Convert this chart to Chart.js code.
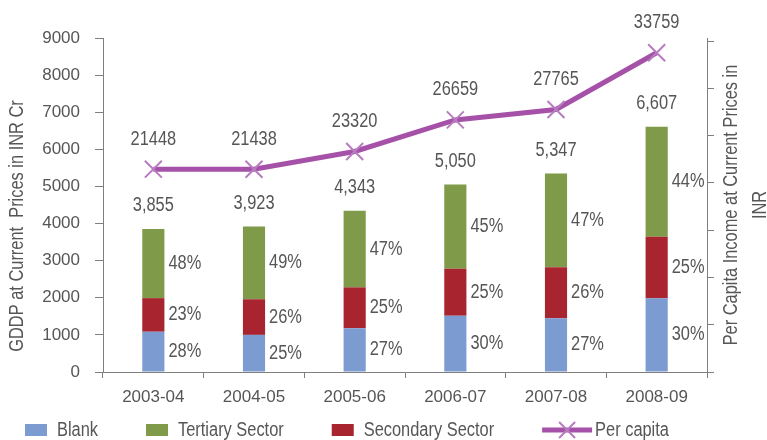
<!DOCTYPE html>
<html>
<head>
<meta charset="utf-8">
<script src="https://cdn.jsdelivr.net/npm/chart.js@4.4.0/dist/chart.umd.min.js"></script>
<style>
  html, body { margin: 0; padding: 0; background: #fff; }
</style>
</head>
<body>
<canvas id="myChart" width="767" height="440"></canvas>
<script>
// categories and values
var years = ['2003-04', '2004-05', '2005-06', '2006-07', '2007-08', '2008-09'];
var blank = [1085, 1000, 1180, 1515, 1450, 1985];
var secondary = [905, 960, 1100, 1265, 1370, 1660];
var tertiary = [1865, 1963, 2063, 2270, 2527, 2962];
var totals = [3855, 3923, 4343, 5050, 5347, 6607];
var perCapita = [21448, 21438, 23320, 26659, 27765, 33759];
var blankPct = ['28%', '25%', '27%', '30%', '27%', '30%'];
var secondaryPct = ['23%', '26%', '25%', '25%', '26%', '25%'];
var tertiaryPct = ['48%', '49%', '47%', '45%', '47%', '44%'];
var rightTicks = [0, 5000, 10000, 15000, 20000, 25000, 30000, 35000];

var FONT = "'Liberation Sans', Arial, sans-serif";
var TEXT = '#565656';
var AXIS = '#7f7f7f';
var SQUEEZE = 0.82;   // narrow look of the original lettering

Chart.defaults.font.family = FONT;
Chart.defaults.font.size = 17;
Chart.defaults.color = TEXT;

function narrowText(ctx, text, x, y, align, angle) {
    ctx.save();
    ctx.translate(x, y);
    if (angle) ctx.rotate(angle);
    ctx.scale(SQUEEZE, 1);
    ctx.textAlign = align;
    ctx.fillText(text, 0, 0);
    ctx.restore();
}

// percentages, totals and per capita values
var labelPlugin = {
    id: 'valueLabels',
    afterDatasetsDraw: function(chart) {
        var ctx = chart.ctx;
        ctx.save();
        ctx.font = '20px ' + FONT;
        ctx.fillStyle = TEXT;
        ctx.textBaseline = 'middle';
        [[0, blankPct], [1, secondaryPct], [2, tertiaryPct]].forEach(function(p) {
            chart.getDatasetMeta(p[0]).data.forEach(function(bar, i) {
                narrowText(ctx, p[1][i], bar.x + bar.width / 2 + 4, (bar.y + bar.base) / 2, 'left');
            });
        });
        chart.getDatasetMeta(2).data.forEach(function(bar, i) {
            narrowText(ctx, totals[i].toLocaleString('en-US'), bar.x, bar.y - 23, 'center');
        });
        chart.getDatasetMeta(3).data.forEach(function(pt, i) {
            narrowText(ctx, String(perCapita[i]), pt.x, pt.y - 30, 'center');
        });
        ctx.restore();
    }
};

// axis titles and the legend row
var framePlugin = {
    id: 'frame',
    afterDraw: function(chart) {
        var ctx = chart.ctx;
        ctx.save();
        ctx.font = '20px ' + FONT;
        ctx.fillStyle = TEXT;
        ctx.textBaseline = 'middle';

        narrowText(ctx, 'GDDP at Current  Prices in INR Cr', 17, 226, 'center', -Math.PI / 2);
        narrowText(ctx, 'Per Capita Income at Current Prices in', 731, 205, 'center', -Math.PI / 2);
        narrowText(ctx, 'INR', 760, 205, 'center', -Math.PI / 2);

        // legend: Blank, Tertiary, Secondary, Per capita
        var ds = chart.data.datasets;
        var order = [0, 2, 1, 3];
        var x = 25, y = 430;
        order.forEach(function(di) {
            var d = ds[di];
            var w = ctx.measureText(d.label).width * SQUEEZE;
            if (d.type === 'line') {
                ctx.strokeStyle = d.borderColor;
                ctx.lineWidth = 5;
                ctx.beginPath();
                ctx.moveTo(x, y);
                ctx.lineTo(x + 50, y);
                ctx.stroke();
                ctx.strokeStyle = d.pointBorderColor;
                ctx.lineWidth = 2;
                ctx.beginPath();
                ctx.moveTo(x + 17, y - 8); ctx.lineTo(x + 33, y + 8);
                ctx.moveTo(x + 17, y + 8); ctx.lineTo(x + 33, y - 8);
                ctx.stroke();
                ctx.fillStyle = TEXT;
                narrowText(ctx, d.label, x + 53, y, 'left');
                x += 53 + w + 48;
            } else {
                ctx.fillStyle = d.backgroundColor;
                ctx.fillRect(x, y - 6, 22, 12);
                ctx.fillStyle = TEXT;
                narrowText(ctx, d.label, x + 32, y, 'left');
                x += 32 + w + 48;
            }
        });
        ctx.restore();
    }
};

var ctx = document.getElementById('myChart').getContext('2d');
var myChart = new Chart(ctx, {
    data: {
        labels: years,
        datasets: [{
            type: 'bar',
            label: 'Blank',
            data: blank,
            backgroundColor: '#7c9bd0',
            yAxisID: 'y',
            order: 1
        },
        {
            type: 'bar',
            label: 'Secondary Sector',
            data: secondary,
            backgroundColor: '#a8252f',
            yAxisID: 'y',
            order: 1
        },
        {
            type: 'bar',
            label: 'Tertiary Sector',
            data: tertiary,
            backgroundColor: '#7f9a48',
            yAxisID: 'y',
            order: 1
        },
        {
            type: 'line',
            label: 'Per capita',
            data: perCapita,
            borderColor: '#a651a8',
            borderWidth: 5,
            pointStyle: 'crossRot',
            pointRadius: 12,
            pointBorderWidth: 2,
            pointBorderColor: '#b77bc0',
            pointBackgroundColor: '#b77bc0',
            tension: 0,
            yAxisID: 'y1',
            order: 0
        }]
    },
    options: {
        responsive: false,
        animation: false,
        devicePixelRatio: 1,
        layout: {
            padding: { top: 38, bottom: 38, left: 0, right: 0 }
        },
        datasets: {
            bar: { categoryPercentage: 1, barPercentage: 0.22 }
        },
        plugins: {
            legend: { display: false },
            tooltip: { enabled: false }
        },
        scales: {
            x: {
                stacked: true,
                grid: { drawOnChartArea: false, tickLength: 6, color: AXIS },
                border: { color: AXIS },
                ticks: { padding: 9, color: TEXT, maxRotation: 0 },
                afterFit: function(s) { s.height = 30; }
            },
            y: {
                stacked: true,
                min: 0,
                max: 9000,
                ticks: {
                    stepSize: 1000,
                    padding: 15,
                    color: TEXT,
                    callback: function(v) { return String(v); }
                },
                grid: { drawOnChartArea: false, tickLength: 8, color: AXIS },
                border: { color: AXIS },
                afterFit: function(s) { s.width = 103; }
            },
            y1: {
                position: 'right',
                min: 0,
                max: 35320,
                ticks: { display: false },
                grid: { drawOnChartArea: false, tickLength: 7, color: AXIS },
                border: { color: AXIS },
                afterBuildTicks: function(s) {
                    s.ticks = rightTicks.map(function(v) { return { value: v }; });
                },
                afterFit: function(s) { s.width = 60; }
            }
        }
    },
    plugins: [labelPlugin, framePlugin]
});
</script>
</body>
</html>
